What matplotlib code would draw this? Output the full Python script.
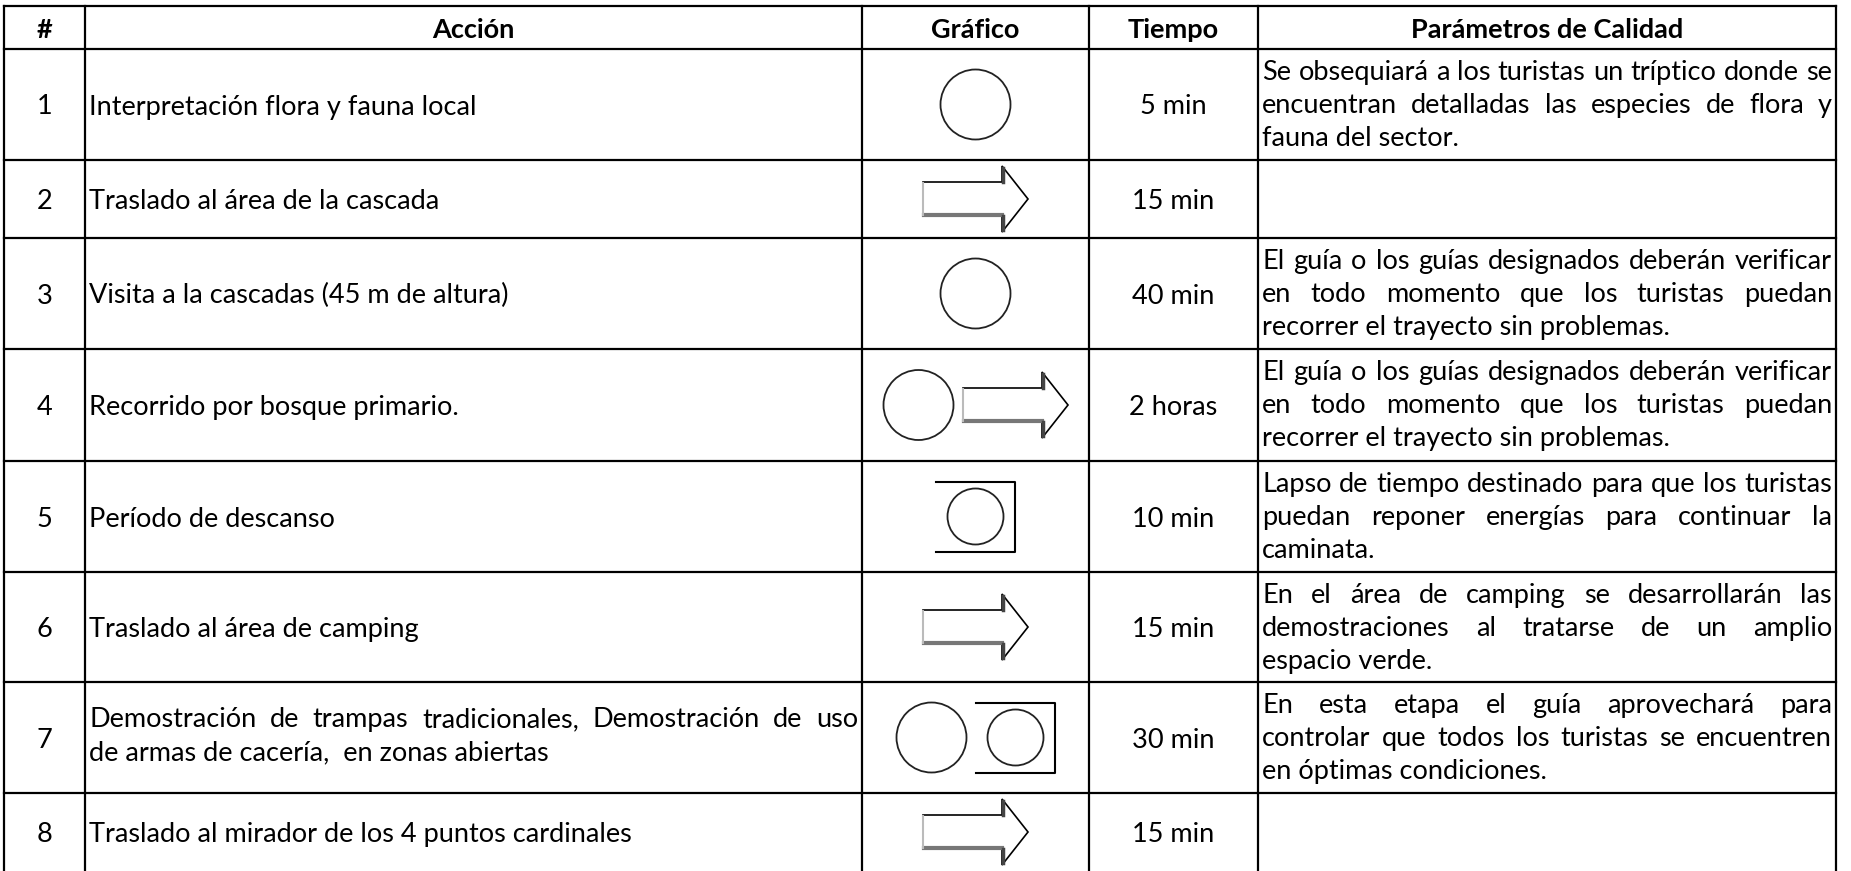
""" Tabla de actividades con simbologia de flujo. """

import matplotlib
matplotlib.use('Agg')
import matplotlib.pyplot as plt
from matplotlib.patches import Circle, Polygon

plt.rcParams['font.family'] = ['Lato', 'DejaVu Sans']

W, H, DPI = 1851, 871, 100
FS = 19.5

encabezados = ['#', 'Acción', 'Gráfico', 'Tiempo', 'Parámetros de Calidad']
numeros = ['1', '2', '3', '4', '5', '6', '7', '8']
acciones = [
    ['Interpretación flora y fauna local'],
    ['Traslado al área de la cascada'],
    ['Visita a la cascadas (45 m de altura)'],
    ['Recorrido por bosque primario.'],
    ['Período de descanso'],
    ['Traslado al área de camping'],
    ['Demostración de trampas tradicionales, Demostración de uso',
     'de armas de cacería,  en zonas abiertas'],
    ['Traslado al mirador de los 4 puntos cardinales'],
]
# op = operacion (circulo), tr = traslado (flecha), de = demora (caja con circulo)
graficos = [['op'], ['tr'], ['op'], ['op', 'tr'], ['de'], ['tr'], ['op', 'de'], ['tr']]
tiempos = ['5 min', '15 min', '40 min', '2 horas', '10 min', '15 min', '30 min', '15 min']
parametros = [
    ['Se obsequiará a los turistas un tríptico donde se',
     'encuentran detalladas las especies de flora y',
     'fauna del sector.'],
    [],
    ['El guía o los guías designados deberán verificar',
     'en todo momento que los turistas puedan',
     'recorrer el trayecto sin problemas.'],
    ['El guía o los guías designados deberán verificar',
     'en todo momento que los turistas puedan',
     'recorrer el trayecto sin problemas.'],
    ['Lapso de tiempo destinado para que los turistas',
     'puedan reponer energías para continuar la',
     'caminata.'],
    ['En el área de camping se desarrollarán las',
     'demostraciones al tratarse de un amplio',
     'espacio verde.'],
    ['En esta etapa el guía aprovechará para',
     'controlar que todos los turistas se encuentren',
     'en óptimas condiciones.'],
    [],
]

# Grid in pixel units (the last row runs off the bottom edge).
COL_X = [4, 85, 862, 1089, 1258, 1836]
ROW_Y = [6, 49, 160, 238, 349, 461, 572, 682, 793, 871]
LINE = 33
PAD = 4

fig = plt.figure(figsize=(W / DPI, H / DPI), dpi=DPI)
ax = fig.add_axes([0, 0, 1, 1])
ax.set_xlim(0, W)
ax.set_ylim(H, 0)
ax.axis('off')
renderer = fig.canvas.get_renderer()

# Table lines.
for x in COL_X:
    ax.plot([x, x], [ROW_Y[0], H + 5], color='black', lw=1.6, solid_capstyle='projecting')
for y in ROW_Y[:-1]:
    ax.plot([COL_X[0], COL_X[-1]], [y, y], color='black', lw=1.6, solid_capstyle='projecting')


def justified(line, x0, x1, y):
    """ Draws one line of text stretched from x0 to x1. """
    words = line.split()
    texts = [ax.text(0, y, w, fontsize=FS, va='baseline') for w in words]
    widths = [t.get_window_extent(renderer).width for t in texts]
    gap = (x1 - x0 - sum(widths)) / max(len(words) - 1, 1)
    x = x0
    for t, w in zip(texts, widths):
        t.set_x(x)
        x += w + gap


def paragraph(lines, x0, x1, y0):
    """ Justified paragraph, last line left aligned. """
    for i, line in enumerate(lines):
        y = y0 + i * LINE
        if i < len(lines) - 1:
            justified(line, x0, x1, y)
        else:
            ax.text(x0, y, line, fontsize=FS, va='baseline')


def arrow(x0, cy):
    """ Block arrow (traslado) with its grey shadow. """
    pts = [(x0, cy - 17), (x0 + 79, cy - 17), (x0 + 79, cy - 33), (x0 + 105, cy),
           (x0 + 79, cy + 33), (x0 + 79, cy + 17), (x0, cy + 17)]
    ax.add_patch(Polygon(pts, closed=True, facecolor='white', edgecolor='black', lw=1.2))
    ax.plot([x0 + 1, x0 + 79], [cy + 16, cy + 16], color='#777777', lw=3)
    ax.plot([x0, x0], [cy - 16, cy + 16], color='#bbbbbb', lw=1.5)
    ax.plot([x0 + 80, x0 + 80], [cy - 31, cy - 17], color='#444444', lw=2.5)
    ax.plot([x0 + 80, x0 + 80], [cy + 17, cy + 31], color='#444444', lw=2.5)


def draw_symbol(kind, x0, cy):
    if kind == 'op':
        ax.add_patch(Circle((x0 + 35.5, cy), 35, facecolor='white', edgecolor='#222222', lw=1.3))
    elif kind == 'tr':
        arrow(x0, cy)
    else:
        ax.plot([x0, x0 + 79, x0 + 79, x0], [cy - 35, cy - 35, cy + 35, cy + 35],
                color='black', lw=1.5)
        ax.add_patch(Circle((x0 + 39.5, cy), 28, facecolor='white', edgecolor='#222222', lw=1.3))


SIZES = {'op': 71, 'tr': 105, 'de': 79}
GAP = 9

# Header.
hy = (ROW_Y[0] + ROW_Y[1]) / 2 + 10
for j, name in enumerate(encabezados):
    ax.text((COL_X[j] + COL_X[j + 1]) / 2, hy, name, fontsize=FS, fontweight='bold',
            ha='center', va='baseline')

# Rows.
for i in range(len(numeros)):
    top, bot = ROW_Y[i + 1], ROW_Y[i + 2]
    cy = (top + bot) / 2
    base = cy + 10
    ax.text((COL_X[0] + COL_X[1]) / 2, base, numeros[i], fontsize=FS, ha='center', va='baseline')

    lines = acciones[i]
    y0 = base - (len(lines) - 1) * (LINE / 2 + 4)
    paragraph(lines, COL_X[1] + PAD, COL_X[2] - PAD, y0)

    kinds = graficos[i]
    total = sum(SIZES[k] for k in kinds) + GAP * (len(kinds) - 1)
    x = (COL_X[2] + COL_X[3]) / 2 - total / 2
    for k in kinds:
        draw_symbol(k, x, cy)
        x += SIZES[k] + GAP

    ax.text((COL_X[3] + COL_X[4]) / 2, base, tiempos[i], fontsize=FS, ha='center', va='baseline')

    if parametros[i]:
        paragraph(parametros[i], COL_X[4] + PAD, COL_X[5] - PAD, top + 31)

fig.savefig('out.png', dpi=DPI, facecolor='white')
